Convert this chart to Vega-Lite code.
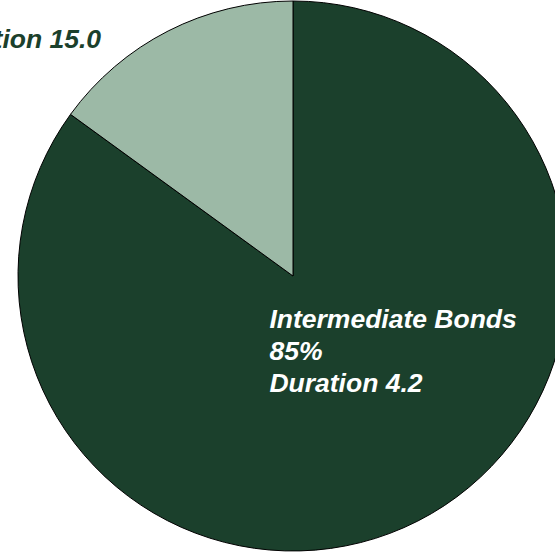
{
  "$schema": "https://vega.github.io/schema/vega-lite/v6.json",
  "width": 586,
  "height": 552,
  "autosize": {"type": "none"},
  "padding": 0,
  "background": "white",
  "config": {"view": {"stroke": null}},
  "data": {
    "values": [
      {"category": "Intermediate Bonds", "share": 85, "duration": 4.2, "order": 1, "label": "Intermediate Bonds\n85%\nDuration 4.2"},
      {"category": "Long Bonds", "share": 15, "duration": 15.0, "order": 2, "label": "Long Bonds\n15%\nDuration 15.0"}
    ]
  },
  "layer": [
    {
      "mark": {"type": "arc", "outerRadius": 275, "stroke": "#000000", "strokeWidth": 1},
      "encoding": {
        "theta": {"field": "share", "type": "quantitative", "stack": true},
        "order": {"field": "order", "type": "quantitative"},
        "color": {
          "field": "category",
          "type": "nominal",
          "scale": {"domain": ["Intermediate Bonds", "Long Bonds"], "range": ["#1b402c", "#9cb9a6"]},
          "legend": null
        }
      }
    },
    {
      "mark": {
        "type": "text",
        "radius": 100,
        "dx": -69,
        "dy": -37,
        "align": "left",
        "baseline": "alphabetic",
        "lineBreak": "\n",
        "lineHeight": 32,
        "font": "Liberation Sans",
        "fontSize": 26.5,
        "fontWeight": "bold",
        "fontStyle": "italic",
        "color": "#ffffff"
      },
      "encoding": {
        "theta": {"field": "share", "type": "quantitative", "stack": true},
        "order": {"field": "order", "type": "quantitative"},
        "text": {"condition": {"test": "datum.category === 'Intermediate Bonds'", "field": "label"}, "value": ""}
      }
    },
    {
      "mark": {
        "type": "text",
        "radius": 330,
        "dx": -210,
        "dy": 2,
        "align": "left",
        "baseline": "alphabetic",
        "lineBreak": "\n",
        "lineHeight": 32,
        "font": "Liberation Sans",
        "fontSize": 26.5,
        "fontWeight": "bold",
        "fontStyle": "italic",
        "color": "#1b402c"
      },
      "encoding": {
        "theta": {"field": "share", "type": "quantitative", "stack": true},
        "order": {"field": "order", "type": "quantitative"},
        "text": {"condition": {"test": "datum.category === 'Long Bonds'", "field": "label"}, "value": ""}
      }
    }
  ]
}
